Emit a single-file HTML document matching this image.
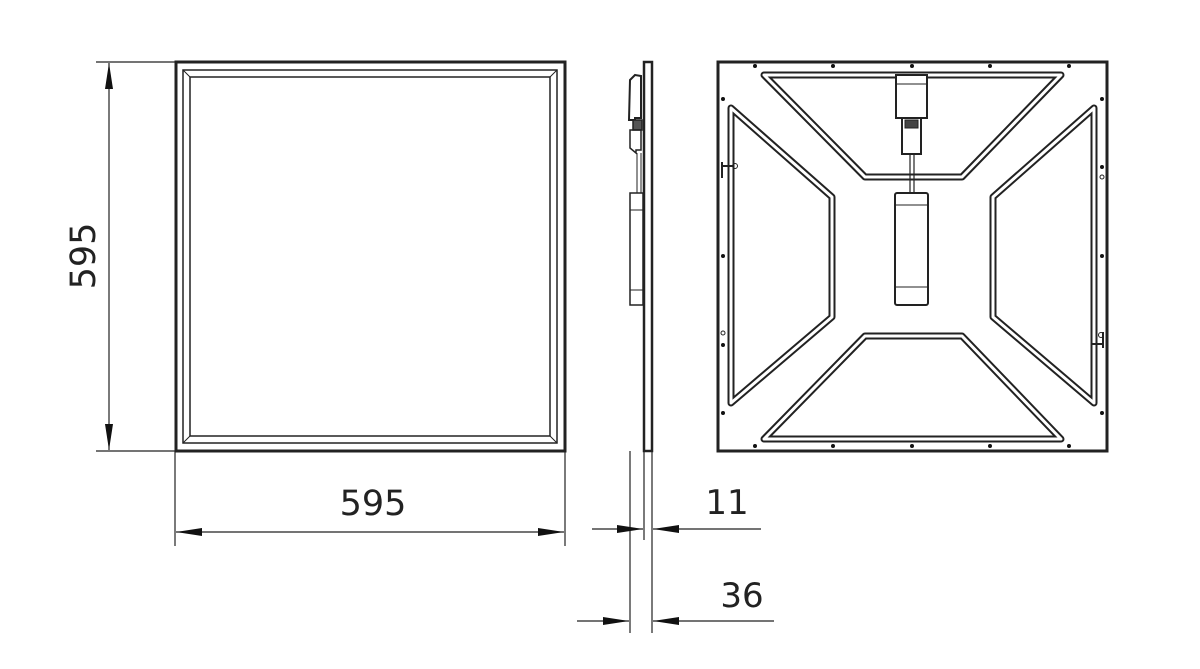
<!DOCTYPE html>
<html><head><meta charset="utf-8"><style>
html,body{margin:0;padding:0;background:#fff;}
svg{display:block;}
text{font-family:"DejaVu Sans","Liberation Sans",sans-serif;fill:#222;}
</style></head><body>
<svg width="1200" height="669" viewBox="0 0 1200 669" xmlns="http://www.w3.org/2000/svg">
<defs>
<marker id="a" viewBox="0 0 26 8" refX="26" refY="4" markerWidth="26" markerHeight="8" markerUnits="userSpaceOnUse" orient="auto" preserveAspectRatio="none"><path d="M0,0 L26,4 L0,8 Z" fill="#111"/></marker>
</defs>
<g fill="none" stroke="#222">
<rect x="176" y="62" width="389" height="389" stroke-width="3"/>
<rect x="183" y="70" width="374" height="373" stroke-width="1.5"/>
<rect x="190" y="77" width="360" height="359" stroke-width="1.5"/>
<line x1="183" y1="70" x2="190" y2="77" stroke-width="1"/>
<line x1="557" y1="70" x2="550" y2="77" stroke-width="1"/>
<line x1="183" y1="443" x2="190" y2="436" stroke-width="1"/>
<line x1="557" y1="443" x2="550" y2="436" stroke-width="1"/>
<line x1="96" y1="62" x2="176" y2="62" stroke-width="1.2"/>
<line x1="96" y1="451" x2="176" y2="451" stroke-width="1.2"/>
<line x1="109" y1="256" x2="109" y2="63" stroke-width="1.2" marker-end="url(#a)"/>
<line x1="109" y1="256" x2="109" y2="450" stroke-width="1.2" marker-end="url(#a)"/>
<line x1="175" y1="451" x2="175" y2="546" stroke-width="1.2"/>
<line x1="565" y1="451" x2="565" y2="546" stroke-width="1.2"/>
<line x1="370" y1="532" x2="176" y2="532" stroke-width="1.2" marker-end="url(#a)"/>
<line x1="370" y1="532" x2="564" y2="532" stroke-width="1.2" marker-end="url(#a)"/>

<rect x="644" y="62" width="8" height="389" stroke-width="2.5"/>
<path d="M630,80 L635,75 L641,76 L641,118 L635,118 L635,120 L629,120 Z" stroke-width="2"/>
<rect x="633" y="120" width="9" height="10" stroke-width="1.5" fill="#555"/>
<path d="M630,130 L641,130 L641,150 L636,150 L636,153 L630,148 Z" stroke-width="1.5"/>
<line x1="637" y1="153" x2="637" y2="193" stroke-width="1"/>
<line x1="641" y1="153" x2="641" y2="193" stroke-width="1"/>
<rect x="630" y="193" width="13" height="112" stroke-width="1.5"/>
<line x1="630" y1="210" x2="643" y2="210" stroke-width="1"/>
<line x1="630" y1="290" x2="643" y2="290" stroke-width="1"/>
<line x1="630" y1="451" x2="630" y2="633" stroke-width="1.2"/>
<line x1="644" y1="451" x2="644" y2="540" stroke-width="1.2"/>
<line x1="652" y1="451" x2="652" y2="633" stroke-width="1.2"/>
<line x1="592" y1="529" x2="643" y2="529" stroke-width="1.2" marker-end="url(#a)"/>
<line x1="761" y1="529" x2="653" y2="529" stroke-width="1.2" marker-end="url(#a)"/>
<line x1="577" y1="621" x2="629" y2="621" stroke-width="1.2" marker-end="url(#a)"/>
<line x1="774" y1="621" x2="653" y2="621" stroke-width="1.2" marker-end="url(#a)"/>

<rect x="718" y="62" width="389" height="389" stroke-width="3"/>
<g stroke-linejoin="round">
<g stroke-width="7" stroke="#222">
<polygon points="764,75 1061,75 962,177 865,177"/>
<polygon points="764,439 1061,439 962,336 865,336"/>
<polygon points="731,108 731,403 832,317 832,197"/>
<polygon points="1094,108 1094,403 993,317 993,197"/>
</g>
<g stroke-width="3" stroke="#fff">
<polygon points="764,75 1061,75 962,177 865,177"/>
<polygon points="764,439 1061,439 962,336 865,336"/>
<polygon points="731,108 731,403 832,317 832,197"/>
<polygon points="1094,108 1094,403 993,317 993,197"/>
</g>
</g>
<rect x="896" y="75" width="31" height="43" stroke-width="2" fill="#fff"/>
<line x1="896" y1="84" x2="927" y2="84" stroke-width="1"/>
<rect x="902" y="118" width="19" height="36" stroke-width="2" fill="#fff"/>
<rect x="905" y="120" width="13" height="8" stroke-width="1" fill="#444"/>
<line x1="910" y1="154" x2="910" y2="193" stroke-width="1.2"/>
<line x1="914" y1="154" x2="914" y2="193" stroke-width="1.2"/>
<rect x="895" y="193" width="33" height="112" rx="2" stroke-width="2" fill="#fff"/>
<line x1="895" y1="205" x2="928" y2="205" stroke-width="1"/>
<line x1="895" y1="287" x2="928" y2="287" stroke-width="1"/>
<path d="M722,166 L733,166 M722,162 L722,178" stroke-width="2"/>
<circle cx="735" cy="166" r="2.5" stroke-width="1"/>
<path d="M1092,344 L1103,344 M1103,332 L1103,348" stroke-width="2"/>
<circle cx="1101" cy="335" r="2.5" stroke-width="1"/>
<circle cx="723" cy="333" r="2" stroke-width="1"/>
<circle cx="1102" cy="177" r="2" stroke-width="1"/>
</g>
<g fill="#111">
<circle cx="755" cy="66" r="2"/><circle cx="833" cy="66" r="2"/><circle cx="912" cy="66" r="2"/><circle cx="990" cy="66" r="2"/><circle cx="1069" cy="66" r="2"/>
<circle cx="755" cy="446" r="2"/><circle cx="833" cy="446" r="2"/><circle cx="912" cy="446" r="2"/><circle cx="990" cy="446" r="2"/><circle cx="1069" cy="446" r="2"/>
<circle cx="723" cy="99" r="2"/><circle cx="723" cy="256" r="2"/><circle cx="723" cy="345" r="2"/><circle cx="723" cy="413" r="2"/>
<circle cx="1102" cy="99" r="2"/><circle cx="1102" cy="167" r="2"/><circle cx="1102" cy="256" r="2"/><circle cx="1102" cy="413" r="2"/>
</g>
<text x="373" y="515" font-size="35" text-anchor="middle">595</text>
<text x="0" y="0" font-size="35" text-anchor="middle" transform="translate(95,256) rotate(-90)">595</text>
<text x="727" y="514" font-size="34" text-anchor="middle">11</text>
<text x="742" y="607" font-size="34" text-anchor="middle">36</text>
</svg>
</body></html>
